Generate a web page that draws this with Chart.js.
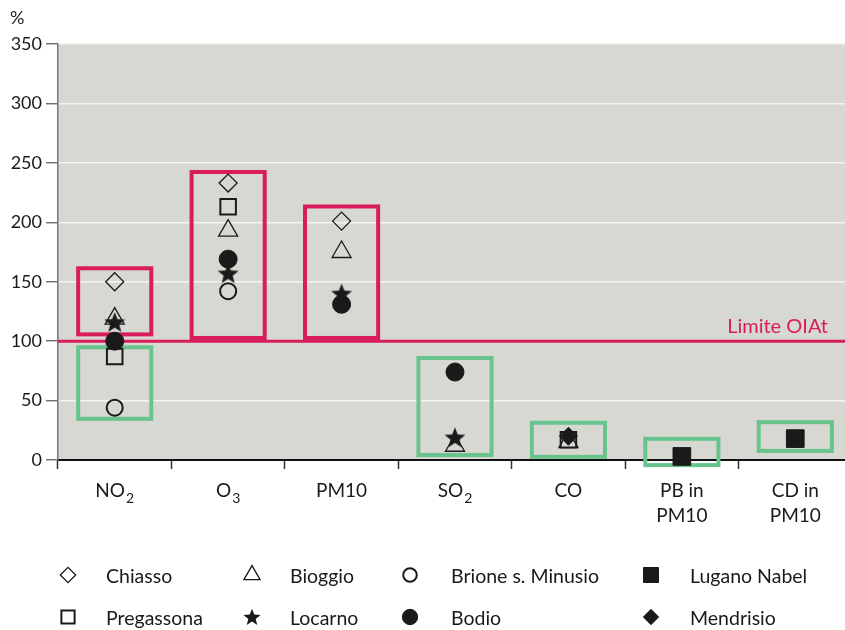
<!DOCTYPE html>
<html><head><meta charset="utf-8">
<script src="https://cdn.jsdelivr.net/npm/chart.js@4/dist/chart.umd.min.js"></script>
<style>
html,body{margin:0;padding:0;background:#fff;overflow:hidden;width:845px;height:630px}
#wrap{width:852px;height:630px;position:relative}
</style>
</head><body><div id="wrap"><canvas id="c"></canvas></div>
<script>
// ---- data ----
const categories = ['NO\u2082', 'O\u2083', 'PM10', 'SO\u2082', 'CO', ['PB in', 'PM10'], ['CD in', 'PM10']];
const yTicks = [0, 50, 100, 150, 200, 250, 300, 350];
const chiasso     = [150, 233, 201, null, null, null, null];
const bioggio     = [119, 193, 175, 12, 15, null, null];
const brione      = [44, 142, null, null, null, null, null];
const luganoNabel = [null, null, null, null, null, 3, 18];
const pregassona  = [87, 213, null, null, 17, null, null];
const locarno     = [116, 157, 140, 19, null, null, null];
const bodio       = [100, 169, 131, 74, null, null, null];
const mendrisio   = [null, null, null, null, 20, null, null];
const limitValue = 100;
const limitLabel = 'Limite OIAt';
// range boxes: category index, low value, high value, above/below limit
const boxCategory = [0, 0, 1, 2, 3, 4, 5, 6];
const boxLow      = [104, 33, 101, 101, 2.5, 1, -6, 6];
const boxHigh     = [163, 96.5, 244, 215, 87.5, 33, 19.5, 33.5];
const boxKind     = ['above', 'below', 'above', 'above', 'below', 'below', 'below', 'below'];

// ---- styles ----
const RED = '#d81c5c';
const GREEN = '#68c48c';
const BG = '#d8d8d3';
const FONT = 'Lato, "Open Sans", sans-serif';
const DARK = '#1a1a1a';

function makeStar(size) {
  const c = document.createElement('canvas');
  c.width = size; c.height = size;
  const g = c.getContext('2d');
  const cx = size / 2, cy = size / 2 + size * 0.04, R = size / 2, r = R * 0.43;
  g.beginPath();
  for (let i = 0; i < 10; i++) {
    const a = -Math.PI / 2 + i * Math.PI / 5;
    const rr = i % 2 === 0 ? R : r;
    g.lineTo(cx + rr * Math.cos(a), cy + rr * Math.sin(a));
  }
  g.closePath();
  g.fillStyle = DARK;
  g.fill();
  return c;
}
const starBig = makeStar(22);
const starSmall = makeStar(18);

const seriesDefs = [
  { label: 'Chiasso', data: chiasso, style: 'rectRot', r: 9, fill: false, bw: 1.3 },
  { label: 'Bioggio', data: bioggio, style: 'triangle', r: 11, fill: false, bw: 1.3 },
  { label: 'Brione s. Minusio', data: brione, style: 'circle', r: 8, fill: false, bw: 2 },
  { label: 'Lugano Nabel', data: luganoNabel, style: 'rect', r: 12.5, fill: true, bw: 1 },
  { label: 'Pregassona', data: pregassona, style: 'rect', r: 11, fill: false, bw: 2 },
  { label: 'Locarno', data: locarno, style: starBig, r: 11, fill: true, bw: 0 },
  { label: 'Bodio', data: bodio, style: 'circle', r: 9, fill: true, bw: 1 },
  { label: 'Mendrisio', data: mendrisio, style: 'rectRot', r: 9, fill: true, bw: 1 }
];

const datasets = seriesDefs.map(s => ({
  label: s.label,
  data: s.data,
  showLine: false,
  pointStyle: s.style,
  pointRadius: s.r,
  pointHoverRadius: s.r,
  pointBorderWidth: s.bw,
  pointBorderColor: DARK,
  pointBackgroundColor: s.fill ? DARK : 'rgba(0,0,0,0)',
  clip: false
}));

function drawMarker(ctx, s, x, y, scale) {
  const r = s.r * scale;
  ctx.save();
  ctx.lineWidth = s.bw || 1;
  ctx.strokeStyle = DARK;
  ctx.fillStyle = DARK;
  if (typeof s.style !== 'string') {
    ctx.drawImage(starSmall, x - starSmall.width / 2, y - starSmall.height / 2);
    ctx.restore();
    return;
  }
  ctx.beginPath();
  if (s.style === 'circle') {
    ctx.arc(x, y, r, 0, Math.PI * 2);
  } else if (s.style === 'rect') {
    const h = r * Math.SQRT1_2;
    ctx.rect(x - h, y - h, 2 * h, 2 * h);
  } else if (s.style === 'rectRot') {
    ctx.moveTo(x - r, y); ctx.lineTo(x, y - r); ctx.lineTo(x + r, y); ctx.lineTo(x, y + r); ctx.closePath();
  } else if (s.style === 'triangle') {
    for (let i = 0; i < 3; i++) {
      const a = i * 2 * Math.PI / 3;
      ctx.lineTo(x + Math.sin(a) * r, y - Math.cos(a) * r);
    }
    ctx.closePath();
  }
  if (s.fill) ctx.fill();
  ctx.stroke();
  ctx.restore();
}

// draw a text with unicode subscript digits rendered as lowered smaller digits
function drawSubText(ctx, text, cx, cy, size) {
  const parts = [];
  for (const ch of text) {
    const code = ch.codePointAt(0);
    const sub = code >= 0x2080 && code <= 0x2089;
    const c = sub ? String.fromCharCode(48 + code - 0x2080) : ch;
    if (parts.length && parts[parts.length - 1].sub === sub) parts[parts.length - 1].t += c;
    else parts.push({ t: c, sub });
  }
  const subSize = Math.round(size * 0.72);
  let total = 0;
  parts.forEach(p => {
    ctx.font = (p.sub ? subSize : size) + 'px ' + FONT;
    p.w = ctx.measureText(p.t).width + (p.sub ? 1 : 0);
    total += p.w;
  });
  let x = cx - total / 2;
  parts.forEach(p => {
    ctx.font = (p.sub ? subSize : size) + 'px ' + FONT;
    ctx.fillText(p.t, x + (p.sub ? 1 : 0), p.sub ? cy + 7 : cy);
    x += p.w;
  });
}

const decorPlugin = {
  id: 'decor',
  beforeDraw(chart) {
    const { ctx, chartArea: a } = chart;
    ctx.save();
    ctx.fillStyle = BG;
    ctx.fillRect(a.left, a.top, a.right - a.left, a.bottom - a.top);
    ctx.restore();
  },
  beforeDatasetsDraw(chart) {
    const { ctx, chartArea: a, scales } = chart;
    const xs = scales.x, ys = scales.y;
    const cw = xs.getPixelForValue(1) - xs.getPixelForValue(0);
    ctx.save();
    // limit line
    const ly = ys.getPixelForValue(limitValue);
    ctx.strokeStyle = RED;
    ctx.lineWidth = 3;
    ctx.beginPath();
    ctx.moveTo(a.left, ly); ctx.lineTo(a.right, ly);
    ctx.stroke();
    ctx.fillStyle = RED;
    ctx.font = '20px ' + FONT;
    ctx.textAlign = 'right';
    ctx.textBaseline = 'alphabetic';
    ctx.fillText(limitLabel, a.right - 24, ly - 8);
    // boxes
    ctx.lineWidth = 4;
    for (let i = 0; i < boxCategory.length; i++) {
      const cx = xs.getPixelForValue(boxCategory[i]);
      const half = cw * 0.34;
      const top = ys.getPixelForValue(boxHigh[i]);
      const bot = ys.getPixelForValue(boxLow[i]);
      ctx.strokeStyle = boxKind[i] === 'above' ? RED : GREEN;
      ctx.strokeRect(cx - half + 2, top + 2, 2 * half - 4, bot - top - 4);
    }
    ctx.restore();
  },
  afterDraw(chart) {
    const { ctx, scales } = chart;
    const xs = scales.x;
    ctx.save();
    ctx.fillStyle = DARK;
    ctx.textBaseline = 'middle';
    ctx.textAlign = 'left';
    // category labels
    categories.forEach((lab, i) => {
      const lines = Array.isArray(lab) ? lab : [lab];
      const cx = xs.getPixelForValue(i);
      lines.forEach((ln, j) => drawSubText(ctx, ln, cx, xs.top + 31 + j * 25, 19));
    });
    // percent unit
    ctx.font = '18px ' + FONT;
    ctx.fillText('%', 10, 18);
    // legend
    const colMarker = [68, 252, 410, 651];
    const colText = [106, 290, 451, 690];
    const rowY = [577, 619];
    seriesDefs.forEach((s, k) => {
      const row = Math.floor(k / 4), col = k % 4;
      drawMarker(ctx, s, colMarker[col], rowY[row] - 2, 0.85);
      ctx.fillStyle = DARK;
      ctx.font = '19.5px ' + FONT;
      ctx.fillText(s.label, colText[col], rowY[row]);
    });
    ctx.restore();
  }
};

new Chart(document.getElementById('c'), {
  type: 'line',
  data: { labels: categories, datasets },
  options: {
    responsive: true,
    maintainAspectRatio: false,
    animation: false,
    events: [],
    layout: { autoPadding: false, padding: { top: 44, left: 0, right: 0, bottom: 90 } },
    plugins: { legend: { display: false }, tooltip: { enabled: false }, title: { display: false } },
    scales: {
      x: {
        type: 'category',
        offset: true,
        afterFit(scale) { scale.height = 80; scale.paddingLeft = 0; scale.paddingRight = 0; },
        grid: { offset: true, drawOnChartArea: false, drawTicks: true, tickLength: 9, tickColor: '#333', tickWidth: 1.5 },
        border: { display: true, color: '#111', width: 2 },
        ticks: { display: false }
      },
      y: {
        min: 0, max: 350,
        afterFit(scale) { scale.width = 58; scale.paddingTop = 0; scale.paddingBottom = 0; },
        afterBuildTicks(scale) { scale.ticks = yTicks.map(v => ({ value: v })); },
        grid: { color: '#f4f4f0', lineWidth: 1.5, drawTicks: true, tickLength: 12, tickColor: '#555', tickWidth: 1.2 },
        border: { display: true, color: '#777', width: 1.5 },
        ticks: { color: DARK, font: { family: FONT, size: 18 }, padding: 4 }
      }
    }
  },
  plugins: [decorPlugin]
});
</script>
</body></html>
